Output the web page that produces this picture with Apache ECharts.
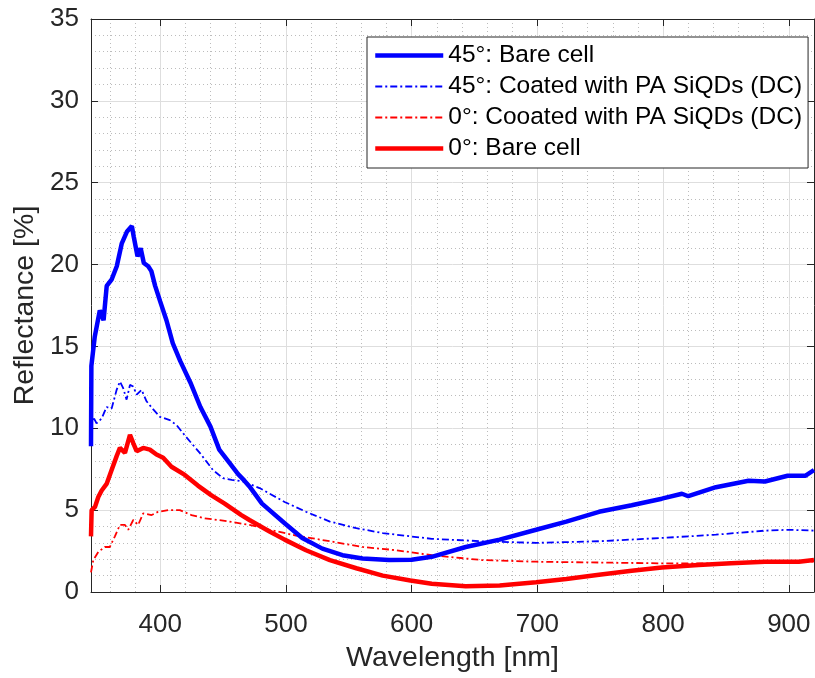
<!DOCTYPE html>
<html>
<head>
<meta charset="utf-8">
<script src="https://cdn.jsdelivr.net/npm/echarts@6/dist/echarts.min.js"></script>
<style>
  html, body { margin: 0; padding: 0; background: #fff; }
  #chart { width: 815px; height: 678px; }
</style>
</head>
<body>
<div id="chart"></div>
<script>
// x ticks
var xMajor = [400, 500, 600, 700, 800, 900];
var xMinor = [360, 380, 420, 440, 460, 480, 520, 540, 560, 580, 620, 640, 660, 680,
              720, 740, 760, 780, 820, 840, 860, 880];

// 45 deg, bare cell
var blueBareX = [345, 345.3, 348, 352, 355, 357.5, 361.5, 365.5, 369.5, 373.5, 377.5, 379, 382, 384.5,
  387, 390.5, 393, 396, 400, 405, 410, 416, 424, 432, 440, 447, 455, 462, 467, 471, 481, 499, 513,
  529, 545, 561, 582, 600, 616, 643, 670, 699, 723, 749, 775, 799, 815, 820, 842, 868, 881, 899, 913, 920];
var blueBareY = [8.9, 13.8, 15.6, 17.2, 16.6, 18.7, 19.1, 19.9, 21.3, 22.0, 22.35, 21.7, 20.5, 21.0,
  20.1, 19.9, 19.6, 18.7, 17.75, 16.6, 15.2, 14.1, 12.8, 11.3, 10.1, 8.7, 7.9, 7.2, 6.8, 6.45, 5.4, 4.2, 3.3,
  2.65, 2.25, 2.05, 1.95, 1.97, 2.15, 2.75, 3.2, 3.8, 4.3, 4.9, 5.3, 5.7, 6.0, 5.85, 6.4, 6.8, 6.75, 7.1, 7.1, 7.45];

// 45 deg, coated
var blueCoatX = [345, 346.8, 349.4, 353.5, 357.4, 361.4, 365.4, 368, 370.6, 373.3, 376, 378.6, 381.3,
  385.2, 389.2, 394.5, 399.8, 407.7, 413, 420.3, 431.5, 442, 450, 457, 466, 479, 499, 516, 535, 556,
  577, 599, 616, 656, 699, 749, 799, 842, 881, 900, 920];
var blueCoatY = [9.9, 10.7, 10.3, 10.6, 11.3, 11.2, 12.35, 12.85, 12.45, 11.75, 12.65, 12.55, 12.05,
  12.35, 11.65, 11.15, 10.7, 10.5, 10.2, 9.5, 8.5, 7.45, 6.95, 6.85, 6.75, 6.35, 5.5, 4.9, 4.3, 3.9,
  3.6, 3.4, 3.25, 3.1, 3.0, 3.1, 3.3, 3.5, 3.75, 3.8, 3.75];

// 0 deg, coated
var redCoatX = [345, 346.8, 350.8, 356, 360, 364, 368, 372, 374.6, 378.6, 382.5, 386.5, 393.2, 398.4,
  406.4, 415.6, 424.9, 435.5, 446, 455, 471, 487, 508, 535, 561, 588, 616, 656, 699, 749, 799, 842, 881, 920];
var redCoatY = [1.2, 1.95, 2.45, 2.75, 2.75, 3.4, 4.1, 4.1, 3.8, 4.4, 4.1, 4.8, 4.7, 4.9,
  5.0, 5.0, 4.7, 4.5, 4.4, 4.3, 4.1, 3.8, 3.45, 3.1, 2.75, 2.55, 2.25, 1.95, 1.85, 1.8, 1.75, 1.75, 1.85, 1.85];

// 0 deg, bare cell
var redBareX = [345, 345.5, 348.2, 350.8, 353.5, 357.4, 361.4, 365.4, 368, 372, 376, 378.6, 381.3, 386.5,
  391.8, 397.1, 402.4, 409, 419.6, 430, 440.8, 451.3, 464.6, 471, 487, 499, 516, 535, 556, 577, 599,
  616, 643, 670, 699, 723, 749, 775, 799, 828, 854, 881, 908, 920];
var redBareY = [3.4, 5.0, 5.2, 5.8, 6.2, 6.6, 7.45, 8.3, 8.8, 8.5, 9.6, 9.1, 8.6, 8.8,
  8.7, 8.4, 8.2, 7.65, 7.15, 6.5, 5.9, 5.4, 4.7, 4.4, 3.7, 3.2, 2.55, 1.95, 1.45, 1.0, 0.7,
  0.5, 0.35, 0.4, 0.6, 0.8, 1.05, 1.3, 1.5, 1.65, 1.75, 1.85, 1.85, 1.95];

var names = ['45°: Bare cell', '45°: Coated with PA SiQDs (DC)',
             '0°: Cooated with PA SiQDs (DC)', '0°: Bare cell'];

function pairs(xs, ys) {
  return xs.map(function (x, i) { return [x, ys[i]]; });
}

var font = "'Liberation Sans', Arial, Helvetica, sans-serif";
var axisColor = '#262626';
var dashDot = [7, 3, 2, 3];

var chart = echarts.init(document.getElementById('chart'));

chart.setOption({
  animation: false,
  backgroundColor: '#fff',
  grid: { left: 91, right: 1, top: 19, bottom: 86 },
  legend: {
    orient: 'vertical',
    left: 367,
    top: 37,
    padding: [6, 6, 7, 6],
    itemWidth: 68,
    itemHeight: 14,
    itemGap: 6,
    backgroundColor: '#fff',
    borderColor: axisColor,
    borderWidth: 1,
    borderRadius: 0,
    itemStyle: { opacity: 0 },
    textStyle: { fontFamily: font, fontSize: 24.5, color: '#000', lineHeight: 24 },
    data: [
      { name: names[0], lineStyle: { width: 4.5 } },
      { name: names[1], lineStyle: { width: 1.8 } },
      { name: names[2], lineStyle: { width: 1.8 } },
      { name: names[3], lineStyle: { width: 4.5 } }
    ]
  },
  xAxis: [
    {
      type: 'value', min: 345, max: 920, position: 'bottom',
      name: 'Wavelength [nm]', nameLocation: 'middle', nameGap: 52,
      nameTextStyle: { fontFamily: font, fontSize: 28.5, color: axisColor },
      axisLine: { lineStyle: { color: axisColor, width: 1 } },
      axisTick: { inside: true, length: 7, customValues: xMajor, lineStyle: { color: axisColor } },
      axisLabel: { customValues: xMajor, margin: 20, fontFamily: font, fontSize: 26, color: axisColor },
      splitLine: { show: true, lineStyle: { color: '#dedede', width: 1 } }
    },
    {
      type: 'value', min: 345, max: 920, position: 'bottom',
      axisLine: { show: false },
      axisTick: { show: false, customValues: xMinor },
      axisLabel: { show: false, customValues: xMinor },
      splitLine: { show: true, lineStyle: { color: '#bcbcbc', width: 1, type: [1, 3] } }
    },
    {
      type: 'value', min: 345, max: 920, position: 'top',
      axisLine: { show: true, lineStyle: { color: axisColor, width: 1 } },
      axisTick: { inside: true, length: 7, customValues: xMajor, lineStyle: { color: axisColor } },
      axisLabel: { show: false, customValues: xMajor },
      splitLine: { show: false }
    }
  ],
  yAxis: [
    {
      type: 'value', min: 0, max: 35, interval: 5, position: 'left',
      name: 'Reflectance [%]', nameLocation: 'middle', nameGap: 48,
      nameTextStyle: { fontFamily: font, fontSize: 28.5, color: axisColor },
      axisLine: { show: true, lineStyle: { color: axisColor, width: 1 } },
      axisTick: { show: true, inside: true, length: 7, lineStyle: { color: axisColor } },
      axisLabel: { margin: 12, fontFamily: font, fontSize: 26, color: axisColor },
      splitLine: { show: true, lineStyle: { color: '#dedede', width: 1 } },
      minorTick: { show: false, splitNumber: 5 },
      minorSplitLine: { show: true, lineStyle: { color: '#bcbcbc', width: 1, type: [1, 3] } }
    },
    {
      type: 'value', min: 0, max: 35, interval: 5, position: 'right',
      axisLine: { show: true, lineStyle: { color: axisColor, width: 1 } },
      axisTick: { show: true, inside: true, length: 7, lineStyle: { color: axisColor } },
      axisLabel: { show: false },
      splitLine: { show: false }
    }
  ],
  series: [
    {
      name: names[0], type: 'line', symbol: 'none', data: pairs(blueBareX, blueBareY),
      lineStyle: { color: '#0000ff', width: 4.5 }, itemStyle: { color: '#0000ff' }, z: 3
    },
    {
      name: names[1], type: 'line', symbol: 'none', data: pairs(blueCoatX, blueCoatY),
      lineStyle: { color: '#0000ff', width: 1.8, type: dashDot }, itemStyle: { color: '#0000ff' }, z: 2
    },
    {
      name: names[2], type: 'line', symbol: 'none', data: pairs(redCoatX, redCoatY),
      lineStyle: { color: '#ff0000', width: 1.8, type: dashDot }, itemStyle: { color: '#ff0000' }, z: 2
    },
    {
      name: names[3], type: 'line', symbol: 'none', data: pairs(redBareX, redBareY),
      lineStyle: { color: '#ff0000', width: 4.5 }, itemStyle: { color: '#ff0000' }, z: 3
    }
  ]
});
</script>
</body>
</html>
